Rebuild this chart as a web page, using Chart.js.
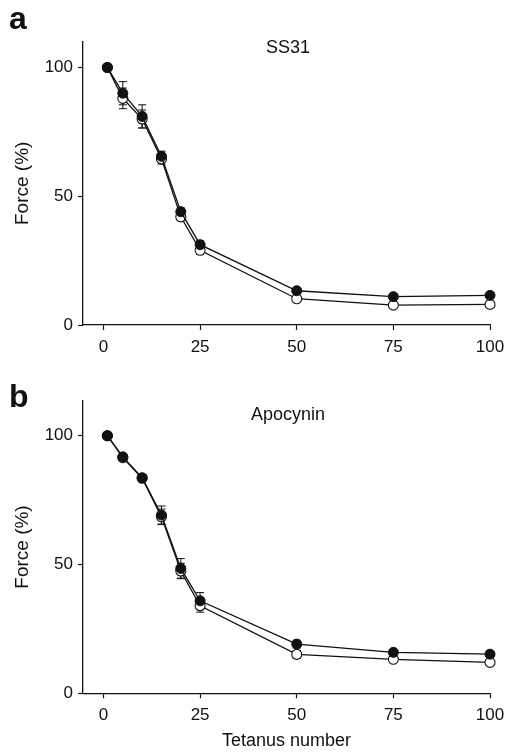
<!DOCTYPE html>
<html><head><meta charset="utf-8">
<script src="https://cdn.jsdelivr.net/npm/chart.js@4.4.1/dist/chart.umd.min.js"></script>
<style>
html,body{margin:0;padding:0;background:#fff;}
body{width:506px;height:752px;position:relative;overflow:hidden;font-family:"Liberation Sans",Arial,sans-serif;}
.wrap{position:absolute;left:0;width:506px;}
#wa{top:0;height:370px;}
#wb{top:370px;height:382px;}
.lbl{position:absolute;font-weight:bold;font-size:32px;color:#111;line-height:1;}
</style></head><body>
<div class="wrap" id="wa"><canvas id="ca" width="506" height="370"></canvas></div>
<div class="wrap" id="wb"><canvas id="cb" width="506" height="382"></canvas></div>
<div class="lbl" style="left:9px;top:2px">a</div>
<div class="lbl" style="left:9px;top:380px">b</div>
<script>
// ---- data ----
const tetanus = [1, 5, 10, 15, 20, 25, 50, 75, 100];
const xTicks = [0, 25, 50, 75, 100];
const yTicks = [0, 50, 100];

const ss31Filled    = [100, 90.0, 81.0, 65.5, 44.0, 31.2, 13.3, 11.0, 11.5];
const ss31FilledErr = [0, 4.5, 4.5, 2.0, 1.5, 1.5, 1.0, 1.0, 1.0];
const ss31Open      = [100, 88.0, 80.0, 64.5, 42.0, 29.0, 10.2, 7.7, 8.0];
const ss31OpenErr   = [0, 4.0, 3.5, 2.0, 1.5, 1.5, 1.0, 1.0, 1.0];

const apoFilled    = [100, 91.8, 83.7, 69.2, 48.5, 35.9, 19.1, 15.9, 15.2];
const apoFilledErr = [0, 1.0, 1.0, 3.5, 3.8, 3.2, 1.5, 1.0, 1.0];
const apoOpen      = [100, 91.5, 83.5, 68.5, 47.5, 34.0, 15.1, 13.2, 12.0];
const apoOpenErr   = [0, 1.0, 1.0, 3.0, 3.0, 2.5, 1.5, 1.0, 1.0];

const FONT = '"Liberation Sans", Arial, sans-serif';
const INK = '#111';

const errorBars = {
  id: 'errorBars',
  beforeDatasetsDraw(chart) {
    const ctx = chart.ctx, xs = chart.scales.x, ys = chart.scales.y;
    ctx.save();
    ctx.strokeStyle = INK;
    ctx.lineWidth = 1;
    chart.data.datasets.forEach(ds => {
      if (!ds.errors) return;
      ds.data.forEach((p, i) => {
        const e = ds.errors[i];
        if (!e) return;
        const px = xs.getPixelForValue(p.x);
        const yt = ys.getPixelForValue(p.y + e);
        const yb = ys.getPixelForValue(p.y - e);
        ctx.beginPath();
        ctx.moveTo(px, yt); ctx.lineTo(px, yb);
        ctx.moveTo(px - 4, yt); ctx.lineTo(px + 4, yt);
        ctx.moveTo(px - 4, yb); ctx.lineTo(px + 4, yb);
        ctx.stroke();
      });
    });
    ctx.restore();
  }
};

const panelTitle = {
  id: 'panelTitle',
  afterDraw(chart, args, opts) {
    const ctx = chart.ctx;
    ctx.save();
    ctx.fillStyle = INK;
    ctx.font = '18px ' + FONT;
    ctx.textAlign = 'center';
    ctx.textBaseline = 'alphabetic';
    ctx.fillText(opts.text, opts.x, opts.y);
    ctx.restore();
  }
};

function makeChart(id, filled, filledErr, open, openErr, cfg) {
  const pts = arr => arr.map((v, i) => ({x: tetanus[i], y: v}));
  return new Chart(document.getElementById(id), {
    type: 'line',
    data: {
      datasets: [
        {
          data: pts(filled), errors: filledErr, clip: false,
          borderColor: INK, borderWidth: 1.3,
          pointBackgroundColor: INK, pointBorderColor: INK,
          pointRadius: 5, pointBorderWidth: 1, tension: 0
        },
        {
          data: pts(open), errors: openErr, clip: false,
          borderColor: INK, borderWidth: 1.3,
          pointBackgroundColor: '#fff', pointBorderColor: INK,
          pointRadius: 5, pointBorderWidth: 1.1, tension: 0
        }
      ]
    },
    options: {
      responsive: false,
      animation: false,
      layout: {padding: {top: cfg.top, right: 16, left: 0, bottom: 0}},
      plugins: {
        legend: {display: false},
        tooltip: {enabled: false},
        panelTitle: {text: cfg.title, x: 288, y: cfg.titleY}
      },
      scales: {
        x: {
          type: 'linear', min: -5.3, max: 100,
          afterBuildTicks: s => { s.ticks = xTicks.map(v => ({value: v})); },
          afterFit: s => { s.height = cfg.xh; s.paddingLeft = 0; s.paddingRight = 0; },
          grid: {drawOnChartArea: false, drawTicks: true, tickLength: 5, color: INK, tickWidth: 1.2},
          border: {color: INK, width: 1.3},
          ticks: {color: INK, font: {size: 17, family: FONT}, padding: 7, maxRotation: 0, autoSkip: false},
          title: {display: !!cfg.xTitle, text: cfg.xTitle || '', color: INK, font: {size: 18, family: FONT}, padding: {top: 0, bottom: 0}}
        },
        y: {
          type: 'linear', min: 0, max: cfg.ymax,
          afterBuildTicks: s => { s.ticks = yTicks.map(v => ({value: v})); },
          afterFit: s => { s.width = 83; },
          grid: {drawOnChartArea: false, drawTicks: true, tickLength: 5, color: INK, tickWidth: 1.2},
          border: {color: INK, width: 1.3},
          ticks: {color: INK, font: {size: 17, family: FONT}, padding: 5},
          title: {display: true, text: 'Force (%)', color: INK, font: {size: 19, family: FONT}, padding: {top: 11, bottom: 0}}
        }
      }
    },
    plugins: [errorBars, panelTitle]
  });
}

makeChart('ca', ss31Filled, ss31FilledErr, ss31Open, ss31OpenErr,
  {top: 41.7, xh: 45, ymax: 110, title: 'SS31', titleY: 53});
makeChart('cb', apoFilled, apoFilledErr, apoOpen, apoOpenErr,
  {top: 30.7, xh: 58.7, ymax: 113.6, title: 'Apocynin', titleY: 50, xTitle: 'Tetanus number'});
</script>
</body></html>
